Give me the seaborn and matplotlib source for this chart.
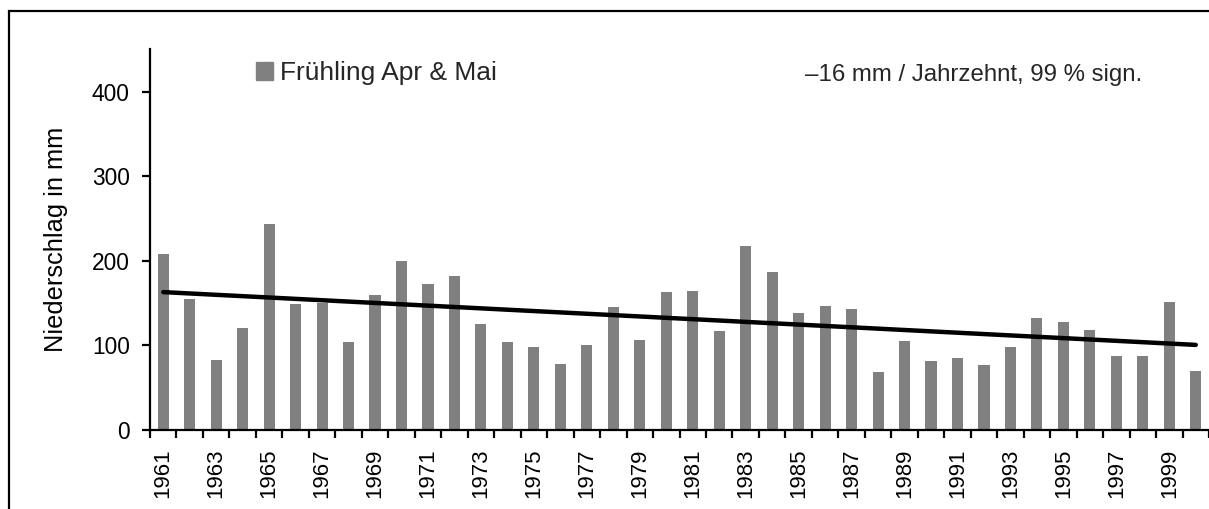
import matplotlib.pyplot as plt
import matplotlib.patches as mpatches
from matplotlib.ticker import FixedLocator
import seaborn as sns
import pandas as pd

# Niederschlag Frühling (Apr & Mai), 1961-2000
years = list(range(1961, 2001))
precip = [208, 155, 83, 121, 244, 149, 150, 104, 160, 200,
          173, 182, 125, 104, 98, 78, 100, 145, 106, 163,
          164, 117, 218, 187, 138, 147, 143, 68, 105, 81,
          85, 77, 98, 132, 128, 118, 87, 88, 151, 70]

# linear trend as drawn in the chart
trend_years = [1961, 2000]
trend_values = [163, 100.6]

y_ticks = [0, 100, 200, 300, 400]
legend_label = 'Frühling Apr & Mai'
trend_text = '–16 mm / Jahrzehnt, 99 % sign.'
y_label = 'Niederschlag in mm'

bar_color = '#808080'

sns.set_theme(style='white')
plt.rcParams['font.family'] = ['Liberation Sans', 'DejaVu Sans']

W, H = 1209, 509
fig = plt.figure(figsize=(W / 100, H / 100), dpi=100)
ax = fig.add_axes([150 / W, 1 - 430 / H, 1059 / W, (430 - 49.3) / H])

df = pd.DataFrame({'Jahr': [str(y) for y in years], 'Niederschlag': precip})
sns.barplot(data=df, x='Jahr', y='Niederschlag', color=bar_color, saturation=1,
            width=0.42, errorbar=None, linewidth=0, ax=ax)

trend_x = [years.index(y) for y in trend_years]
ax.plot(trend_x, trend_values, color='black', linewidth=3.2, solid_capstyle='round', zorder=5)

ax.set_xlim(-0.5, len(years) - 0.5)
ax.set_ylim(0, 450)

# labels on every second year, tick marks between categories
ax.set_xticks(range(0, len(years), 2))
ax.set_xticklabels([str(y) for y in years[::2]], rotation=90, fontsize=16)
ax.xaxis.set_minor_locator(FixedLocator([i - 0.5 for i in range(len(years) + 1)]))
ax.tick_params(axis='x', which='major', length=0, pad=13.5, colors='black')
ax.tick_params(axis='x', which='minor', bottom=True, length=5.5, width=1.6,
               direction='out', color='black')

ax.set_yticks(y_ticks)
ax.set_yticklabels([str(v) for v in y_ticks], fontsize=16.4)
ax.tick_params(axis='y', left=True, length=5.5, width=1.6, pad=9,
               direction='out', color='black', labelcolor='black')

ax.set_xlabel('')
ax.set_ylabel(y_label, fontsize=18.3, color='black')
ax.yaxis.label.set_verticalalignment('center')
ax.yaxis.set_label_coords(-0.0892, 0.502)

for side in ['top', 'right']:
    ax.spines[side].set_visible(False)
for side in ['left', 'bottom']:
    ax.spines[side].set_linewidth(1.6)
    ax.spines[side].set_color('black')

handle = mpatches.Patch(color=bar_color, label=legend_label)
ax.legend(handles=[handle], loc='center left',
          bbox_to_anchor=(256 / W, 1 - 73 / H), bbox_transform=fig.transFigure,
          frameon=False, fontsize=19, handlelength=0.65, handleheight=0.65,
          handletextpad=0.27, borderpad=0, borderaxespad=0)

fig.text(805 / W, 1 - 80.7 / H, trend_text, fontsize=17.3, ha='left', va='baseline')

# chart area border (cut off at the bottom and right)
fig.add_artist(mpatches.Rectangle((9 / W, -0.1), 1.2, 1.1 - 11 / H,
                                  transform=fig.transFigure, fill=False,
                                  edgecolor='black', linewidth=1.6))

fig.savefig('out.png', dpi=100)
